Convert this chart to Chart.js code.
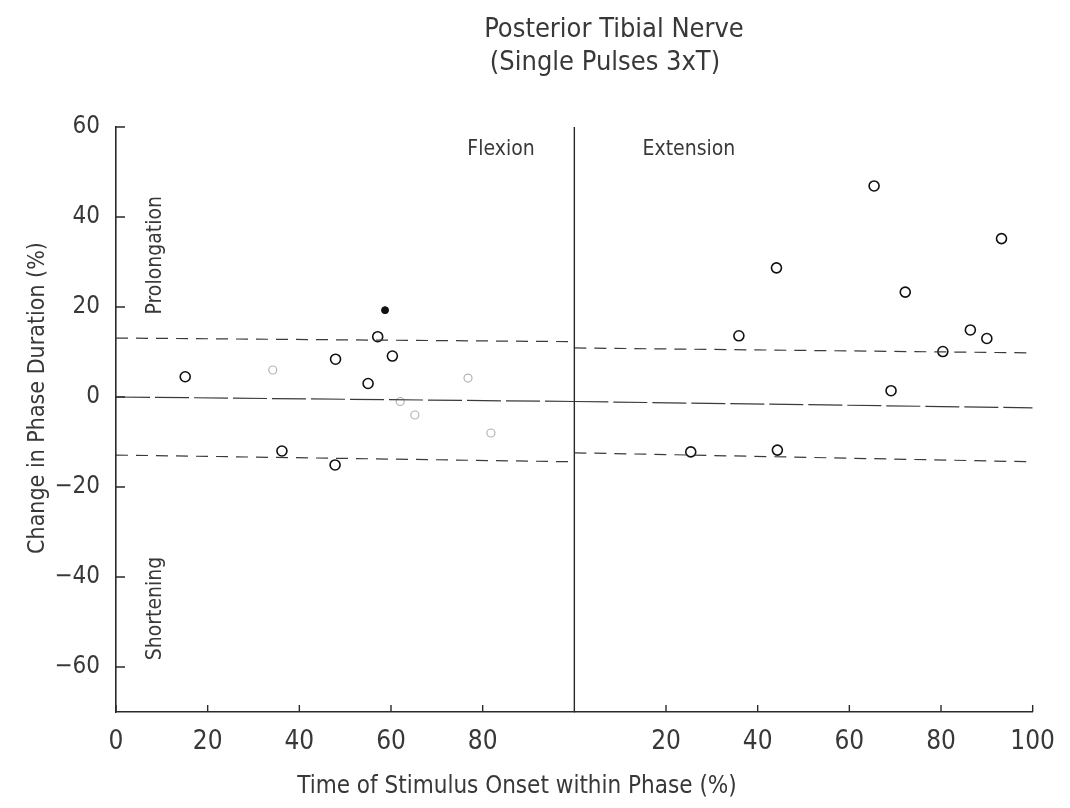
<!DOCTYPE html>
<html lang="en">
<head>
<meta charset="utf-8">
<title>Posterior Tibial Nerve</title>
<style>
  html, body { margin: 0; background: #fff; }
  canvas { display: block; }
</style>
</head>
<body>
<canvas id="myChart" width="1070" height="808"></canvas>
<script src="https://cdn.jsdelivr.net/npm/chart.js"></script>
<script>
// tick values
const yTicks = [-60, -40, -20, 0, 20, 40, 60];
const flexTicks = [0, 20, 40, 60, 80];
const extTicks = [20, 40, 60, 80, 100];

// stimulus during flexion: onset (% of phase) / change in phase duration (%)
const flexOnset  = [15.1, 47.9, 55.0, 57.1, 60.3, 36.2, 47.8];
const flexChange = [4.5, 8.4, 3.0, 13.4, 9.1, -12.0, -15.1];
// weak, half-erased circles
const flexFaintOnset  = [34.2, 62.0, 65.2, 76.8, 81.8];
const flexFaintChange = [6.0, -1.0, -4.0, 4.2, -8.0];
// filled mark
const flexDotOnset  = [58.7];
const flexDotChange = [19.3];

// stimulus during extension
const extOnset  = [65.4, 93.2, 44.1, 72.2, 86.4, 90.0, 80.4, 35.9, 69.1, 25.4, 44.3];
const extChange = [46.9, 35.2, 28.7, 23.3, 14.9, 13.0, 10.1, 13.6, 1.4, -12.2, -11.8];

// control level and its range, at start and end of each phase
const bandEnds  = [0, 100];
const flexUpper = [13.1, 12.3];
const flexMean  = [0, -1];
const flexLower = [-12.9, -14.4];
const extUpper  = [10.9, 9.8];
const extMean   = [-1, -2.4];
const extLower  = [-12.4, -14.4];

const ink = '#2a2a2a';
const letter = '#383838';
const face = '"Liberation Sans Narrow", "DejaVu Sans Condensed", "Liberation Sans", sans-serif';

const pts = (xs, ys) => xs.map((x, i) => ({x: x, y: ys[i]}));
const minus = v => String(v).replace('-', '\u2212');

function circles(xs, ys, xAxis, color, r, w) {
  return {
    data: pts(xs, ys), xAxisID: xAxis, showLine: false,
    pointRadius: r, pointBorderWidth: w, pointBorderColor: color,
    pointBackgroundColor: 'rgba(0,0,0,0)'
  };
}

function band(ys, xAxis, dash) {
  return {
    data: pts(bandEnds, ys), xAxisID: xAxis, showLine: true,
    borderColor: '#3a3a3a', borderWidth: 1.2, borderDash: dash,
    pointRadius: 0, fill: false
  };
}

// ticks inside the axes, panel divider and the lettering
const figureText = {
  id: 'figureText',
  afterDraw(chart) {
    const ctx = chart.ctx;
    const {xFlex, xExt, y} = chart.scales;
    ctx.save();
    ctx.strokeStyle = ink;
    ctx.lineWidth = 1.4;
    ctx.beginPath();
    yTicks.forEach(v => {
      const py = y.getPixelForValue(v);
      ctx.moveTo(y.right, py);
      ctx.lineTo(y.right + 9, py);
    });
    [[xFlex, flexTicks], [xExt, extTicks]].forEach(([s, ticks]) => {
      ticks.forEach(v => {
        const px = s.getPixelForValue(v);
        ctx.moveTo(px, s.top);
        ctx.lineTo(px, s.top - 7);
      });
    });
    ctx.moveTo(xFlex.right, y.getPixelForValue(60));
    ctx.lineTo(xFlex.right, y.bottom);
    ctx.stroke();

    ctx.fillStyle = letter;
    ctx.textAlign = 'center';
    ctx.textBaseline = 'middle';
    ctx.font = '27px ' + face;
    ctx.fillText('Posterior Tibial Nerve', 614, 30);
    ctx.fillText('(Single Pulses 3xT)', 605, 63);

    ctx.font = '21px ' + face;
    ctx.fillText('Flexion', xFlex.getPixelForValue(84), y.getPixelForValue(55));
    ctx.fillText('Extension', xExt.getPixelForValue(25), y.getPixelForValue(55));
    ctx.font = '24px ' + face;
    ctx.fillText('Time of Stimulus Onset within Phase (%)', 517, 787);

    const vertical = (t, x, py) => {
      ctx.save();
      ctx.translate(x, py);
      ctx.rotate(-Math.PI / 2);
      ctx.fillText(t, 0, 0);
      ctx.restore();
    };
    ctx.font = '23px ' + face;
    vertical('Change in Phase Duration (%)', 38, 398);
    ctx.font = '21px ' + face;
    vertical('Prolongation', xFlex.getPixelForValue(8.7), y.getPixelForValue(31.5));
    vertical('Shortening', xFlex.getPixelForValue(8.7), y.getPixelForValue(-47));
    ctx.restore();
  }
};

const xCommon = {
  type: 'linear', position: 'bottom', stack: 'onset', stackWeight: 1,
  min: 0, max: 100,
  grid: { display: true, drawOnChartArea: false, drawTicks: false },
  border: { display: true, color: ink, width: 1.5 },
  ticks: { color: letter, padding: 15, font: { family: face, size: 26 } },
  afterFit: s => { s.height = 96; }
};

const ctx = document.getElementById('myChart').getContext('2d');
const myChart = new Chart(ctx, {
  type: 'scatter',
  data: {
    datasets: [
      band(flexUpper, 'xFlex', [12, 8]),
      band(flexMean, 'xFlex', [34, 5]),
      band(flexLower, 'xFlex', [12, 8]),
      band(extUpper, 'xExt', [12, 8]),
      band(extMean, 'xExt', [34, 5]),
      band(extLower, 'xExt', [12, 8]),
      circles(flexFaintOnset, flexFaintChange, 'xFlex', '#b4b4b4', 4, 1.2),
      circles(flexOnset, flexChange, 'xFlex', '#111', 5, 1.6),
      circles(extOnset, extChange, 'xExt', '#111', 5, 1.6),
      {
        data: pts(flexDotOnset, flexDotChange), xAxisID: 'xFlex', showLine: false,
        pointRadius: 3.5, pointBackgroundColor: '#111', pointBorderColor: '#111'
      }
    ]
  },
  options: {
    responsive: false,
    animation: false,
    layout: { padding: { top: 127, right: 28, left: 0, bottom: 0 } },
    plugins: {
      legend: { display: false },
      tooltip: { enabled: false }
    },
    scales: {
      xFlex: Object.assign({}, xCommon, {
        weight: 0,
        afterBuildTicks: s => { s.ticks = flexTicks.map(v => ({value: v})); }
      }),
      xExt: Object.assign({}, xCommon, {
        weight: 1,
        afterBuildTicks: s => { s.ticks = extTicks.map(v => ({value: v})); }
      }),
      y: {
        type: 'linear', position: 'left', min: -70, max: 60,
        grid: { display: true, drawOnChartArea: false, drawTicks: false },
        border: { display: true, color: ink, width: 1.6 },
        ticks: { color: letter, padding: 16, font: { family: face, size: 24 }, callback: minus },
        afterBuildTicks: s => { s.ticks = yTicks.map(v => ({value: v})); },
        afterFit: s => { s.width = 116; }
      }
    }
  },
  plugins: [figureText]
});
</script>
</body>
</html>
